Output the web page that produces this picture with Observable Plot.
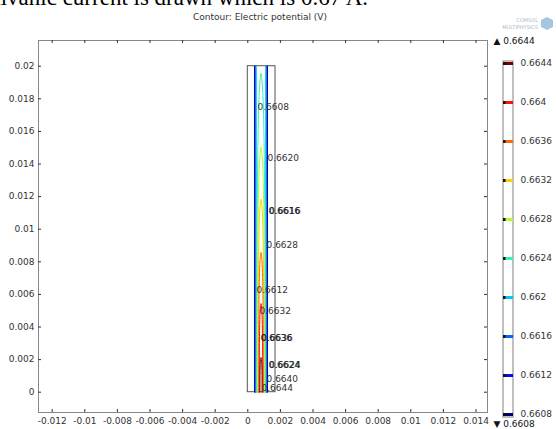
<!DOCTYPE html>
<html><head><meta charset="utf-8">
<script src="https://cdn.jsdelivr.net/npm/d3@7"></script>
<script src="https://cdn.jsdelivr.net/npm/@observablehq/plot@0.6"></script>
<style>
html,body{margin:0;padding:0;background:#fff;}
#wrap{position:relative;width:556px;height:429px;overflow:hidden;font-family:"DejaVu Sans",sans-serif;}
#wrap > svg, #wrap > div{position:absolute;top:0;}
</style>
</head><body>
<div id="wrap"></div>
<script>
// ---- data ----
const levels = [0.6608, 0.6612, 0.6616, 0.662, 0.6624, 0.6628, 0.6632, 0.6636, 0.664, 0.6644];
const levelColors = ["#00006e", "#0010e8", "#0068ff", "#00c8ff", "#38f2b4", "#b0ff2c", "#ffd000", "#ff6a00", "#ff1010", "#7a0000"];
// tip height (m) of each closed contour loop; null = line runs to the top boundary
const tipY = [null, null, null, null, 0.01957, 0.01503, 0.01184, 0.00858, 0.00544, 0.00213];
// half width (m) of each contour near the bottom
const halfWidth = [0.000399, 0.000362, 0.000325, 0.000288, 0.000252, 0.000215, 0.000178, 0.000141, 0.000104, 0.0000675];
const centerX = 0.00081;
// shape of a loop: fraction of tip height vs fraction of half width
const profileY = [0, 0.55, 0.82, 0.94, 1];
const profileW = [1, 0.92, 0.7, 0.42, 0];
// geometry (domain) rectangle
const domainX = [0, 0.0017];
const domainY = [0, 0.02];
// contour labels
const labelText = ["0.6608", "0.6620", "0.6616", "0.6628", "0.6612", "0.6632", "0.6636", "0.6624", "0.6640", "0.6644"];
const labelX = [0.000595, 0.00121, 0.00127, 0.00115, 0.000534, 0.000718, 0.00078, 0.00127, 0.00115, 0.00084];
const labelY = [0.01747, 0.01434, 0.01109, 0.0090, 0.00624, 0.00495, 0.00329, 0.00164, 0.00082, 0.00027];
const labelDouble = [false, false, true, false, false, false, true, true, false, false];
const xTicks = [-0.012, -0.01, -0.008, -0.006, -0.004, -0.002, 0, 0.002, 0.004, 0.006, 0.008, 0.01, 0.012, 0.014];
const yTicks = [0, 0.002, 0.004, 0.006, 0.008, 0.01, 0.012, 0.014, 0.016, 0.018, 0.02];
const titleText = "Contour: Electric potential (V)";
const captionText = "galvanic current is drawn which is 0.67 A.";

// ---- build contour polylines ----
const pts = [];
levels.forEach((lv, i) => {
  const hw = halfWidth[i];
  if (tipY[i] == null) {
    for (const s of [-1, 1]) {
      pts.push({key: lv + (s < 0 ? "L" : "R"), level: lv, x: centerX + s * hw, y: domainY[0]});
      pts.push({key: lv + (s < 0 ? "L" : "R"), level: lv, x: centerX + s * hw, y: domainY[1]});
    }
  } else {
    const t = tipY[i];
    profileY.forEach((f, k) => pts.push({key: String(lv), level: lv, x: centerX - hw * profileW[k], y: t * f}));
    for (let k = profileY.length - 2; k >= 0; k--) pts.push({key: String(lv), level: lv, x: centerX + hw * profileW[k], y: t * profileY[k]});
  }
});
const labels = labelText.map((t, i) => ({t, x: labelX[i], y: labelY[i], d: labelDouble[i]}));

const W = 556, H = 429;
const mL = 38, mR = 69, mT = 40, mB = 17;
const innerW = W - mL - mR, innerH = H - mT - mB;
const pxPerUnit = 16300, x0px = 247.3, y0px = 391.7;
const xDom = [(mL - x0px) / pxPerUnit, (W - mR - x0px) / pxPerUnit];
const yDom = [(y0px - (H - mB)) / pxPerUnit, (y0px - mT) / pxPerUnit];
const color = {type: "ordinal", domain: levels, range: levelColors};

const main = Plot.plot({
  width: W, height: H,
  marginLeft: mL, marginRight: mR, marginTop: mT, marginBottom: mB,
  style: {fontFamily: "DejaVu Sans", fontSize: "9px", color: "#333", background: "transparent"},
  x: {domain: xDom, axis: null},
  y: {domain: yDom, axis: null},
  color,
  marks: [
    Plot.rect([0], {x1: () => domainX[0], x2: () => domainX[1], y1: () => domainY[0], y2: () => domainY[1], fill: "none", stroke: "#555", strokeWidth: 1}),
    Plot.line(pts, {x: "x", y: "y", z: "key", stroke: "level", strokeWidth: 1, curve: "catmull-rom"}),
    Plot.text(labels, {x: "x", y: "y", text: "t", textAnchor: "start", fill: "#333", fontSize: 9}),
    Plot.text(labels.filter(d => d.d), {x: "x", y: "y", text: "t", textAnchor: "start", fill: "#222", fontSize: 9, dx: 0.7}),
    Plot.frame({stroke: "#888"}),
    Plot.tickX(xTicks, {x: d => d, insetTop: innerH - 3, stroke: "#333"}),
    Plot.tickX(xTicks, {x: d => d, insetBottom: innerH - 3, stroke: "#333"}),
    Plot.tickY(yTicks, {y: d => d, insetRight: innerW - 3, stroke: "#333"}),
    Plot.tickY(yTicks, {y: d => d, insetLeft: innerW - 3, stroke: "#333"}),
    Plot.axisX({ticks: xTicks, tickSize: 0, tickPadding: 5, tickFormat: d => String(d), fontSize: 9, label: null}),
    Plot.axisY({ticks: yTicks, tickSize: 0, tickPadding: 4, tickFormat: d => String(d), fontSize: 9, label: null})
  ]
});

// ---- colour bar ----
const cbW = 76, cbLeft = 480;
const bar = Plot.plot({
  width: cbW, height: H,
  marginLeft: 23, marginRight: 43, marginTop: 63, marginBottom: 15,
  style: {fontFamily: "DejaVu Sans", fontSize: "9px", color: "#333", background: "transparent", overflow: "visible"},
  x: {domain: [0, 1], axis: null},
  y: {domain: [levels[0], levels[levels.length - 1]], axis: null},
  color,
  marks: [
    Plot.rect([0], {x1: () => 0, x2: () => 1, y1: () => levels[0], y2: () => levels[levels.length - 1], insetTop: -2, insetBottom: -3, fill: "#fff", stroke: "#aaa", strokeWidth: 1.5}),
    Plot.ruleY(levels, {y: d => d, x1: 0, x2: 1, stroke: d => d, strokeWidth: 3}),
    Plot.ruleY(levels, {y: d => d, x1: 0, x2: 0.25, stroke: "#111", strokeWidth: 3}),
    Plot.text(levels, {x: 1, y: d => d, text: d => String(d), dx: 7, textAnchor: "start", fill: "#333"}),
    Plot.text([levels[levels.length - 1]], {x: 0, y: d => d, text: d => "▲ " + d, dx: -10, dy: -22, textAnchor: "start", fill: "#111"}),
    Plot.text([levels[0]], {x: 0, y: d => d, text: d => "▼ " + d, dx: -10, dy: 10, textAnchor: "start", fill: "#111"})
  ]
});
bar.style.left = cbLeft + "px";

// ---- overlay texts (caption cut at top, title, logo) ----
const ns = "http://www.w3.org/2000/svg";
const ov = document.createElementNS(ns, "svg");
ov.setAttribute("width", W); ov.setAttribute("height", H);
ov.style.left = "0px";
ov.innerHTML = `
  <text x="-21" y="5" font-family="Liberation Serif" font-size="23" fill="#000">${captionText}</text>
  <text x="260" y="20" text-anchor="middle" font-family="DejaVu Sans" font-size="9" fill="#333">${titleText}</text>
  <text x="538" y="22" text-anchor="end" font-family="DejaVu Sans" font-size="5" fill="#a8bccc">COMSOL</text>
  <text x="538" y="29" text-anchor="end" font-family="DejaVu Sans" font-size="5" fill="#a8bccc">MULTIPHYSICS</text>
  <path d="M541 20 l6 -3 l6 3 l0 7 l-6 3 l-6 -3 z" fill="#8fb8d8" opacity="0.8"/>
`;
const wrap = document.getElementById("wrap");
main.style.left = "0px";
wrap.appendChild(main);
wrap.appendChild(bar);
wrap.appendChild(ov);
</script>
</body></html>
